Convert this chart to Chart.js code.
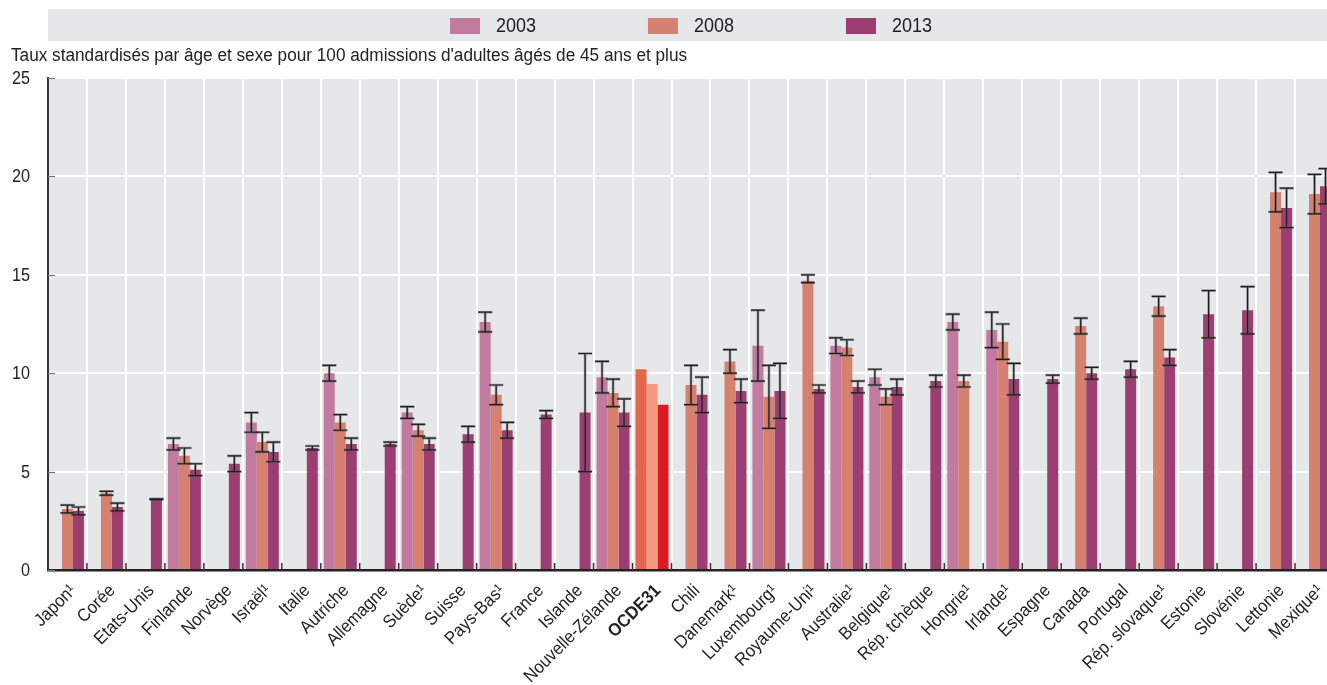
<!DOCTYPE html>
<html lang="fr">
<head>
<meta charset="utf-8">
<title>Taux standardisés par âge et sexe</title>
<script src="https://cdn.jsdelivr.net/npm/chart.js@4.4.1/dist/chart.umd.min.js"></script>
<style>
  html, body { margin: 0; padding: 0; background: #ffffff; overflow: hidden; }
  #wrap { position: absolute; left: 0; top: 0; width: 1336px; height: 685px; }
</style>
</head>
<body>
<div id="wrap"><canvas id="chart" width="1336" height="685"></canvas></div>
<script>
// Countries, sorted by the latest available rate
const categories = [
  'Japon¹', 'Corée', 'Etats-Unis', 'Finlande', 'Norvège', 'Israël¹', 'Italie', 'Autriche',
  'Allemagne', 'Suède¹', 'Suisse', 'Pays-Bas¹', 'France', 'Islande', 'Nouvelle-Zélande', 'OCDE31',
  'Chili', 'Danemark¹', 'Luxembourg¹', 'Royaume-Uni¹', 'Australie¹', 'Belgique¹', 'Rép. tchèque',
  'Hongrie¹', 'Irlande¹', 'Espagne', 'Canada', 'Portugal', 'Rép. slovaque¹', 'Estonie', 'Slovénie',
  'Lettonie', 'Mexique¹'
];
const highlight = 'OCDE31';

const years = ['2003', '2008', '2013'];

// Rates per 100 admissions
const rate2003 = [null, null, null, 6.4, null, 7.5, null, 10.0, null, 8.0, null, 12.6, null, null, 9.8, 10.2,
  null, null, 11.4, null, 11.4, 9.8, null, 12.6, 12.2, null, null, null, null, null, null, null, null];
const rate2008 = [3.1, 3.9, null, 5.8, null, 6.5, null, 7.5, null, 7.1, null, 8.9, null, null, 9.0, 9.45,
  9.4, 10.6, 8.8, 14.7, 11.3, 8.8, null, 9.6, 11.6, null, 12.4, null, 13.4, null, null, 19.2, 19.1];
const rate2013 = [3.0, 3.2, 3.6, 5.1, 5.4, 6.0, 6.2, 6.4, 6.4, 6.4, 6.9, 7.1, 7.9, 8.0, 8.0, 8.4,
  8.9, 9.1, 9.1, 9.2, 9.3, 9.3, 9.6, null, 9.7, 9.7, 10.0, 10.2, 10.8, 13.0, 13.2, 18.4, 19.5];

// 95% confidence intervals (lower / upper)
const low2003 = [null, null, null, 6.1, null, 7.0, null, 9.6, null, 7.7, null, 12.1, null, null, 9.0, null,
  null, null, 9.6, null, 11.0, 9.4, null, 12.2, 11.3, null, null, null, null, null, null, null, null];
const high2003 = [null, null, null, 6.7, null, 8.0, null, 10.4, null, 8.3, null, 13.1, null, null, 10.6, null,
  null, null, 13.2, null, 11.8, 10.2, null, 13.0, 13.1, null, null, null, null, null, null, null, null];
const low2008 = [2.9, 3.8, null, 5.4, null, 6.0, null, 7.1, null, 6.8, null, 8.4, null, null, 8.3, null,
  8.4, 10.0, 7.2, 14.6, 10.9, 8.4, null, 9.3, 10.7, null, 12.0, null, 12.9, null, null, 18.2, 18.1];
const high2008 = [3.3, 4.0, null, 6.2, null, 7.0, null, 7.9, null, 7.4, null, 9.4, null, null, 9.7, null,
  10.4, 11.2, 10.4, 15.0, 11.7, 9.2, null, 9.9, 12.5, null, 12.8, null, 13.9, null, null, 20.2, 20.1];
const low2013 = [2.8, 3.0, 3.58, 4.8, 5.0, 5.5, 6.1, 6.1, 6.3, 6.1, 6.5, 6.7, 7.7, 5.0, 7.3, null,
  8.0, 8.5, 7.7, 9.0, 9.0, 8.9, 9.3, null, 8.9, 9.5, 9.7, 9.8, 10.4, 11.8, 12.0, 17.4, 18.6];
const high2013 = [3.2, 3.4, 3.62, 5.4, 5.8, 6.5, 6.3, 6.7, 6.5, 6.7, 7.3, 7.5, 8.1, 11.0, 8.7, null,
  9.8, 9.7, 10.5, 9.4, 9.6, 9.7, 9.9, null, 10.5, 9.9, 10.3, 10.6, 11.2, 14.2, 14.4, 19.4, 20.4];

const yTicks = [0, 5, 10, 15, 20, 25];
const yTitle = "Taux standardisés par âge et sexe pour 100 admissions d'adultes âgés de 45 ans et plus";

const FONT = "'Liberation Sans', Arial, sans-serif";
const NARROW = 0.9;          // horizontal squeeze for a condensed look
const TEXT = '#222222';
const seriesColor = ['#c27a9f', '#d6816f', '#9c3e71'];
const highlightColor = ['#e5654d', '#f5977a', '#db1b24'];
const plotBg = '#e6e7e8';

const seriesValues = [rate2003, rate2008, rate2013];
const seriesLow = [low2003, low2008, low2013];
const seriesHigh = [high2003, high2008, high2013];

// draw text squeezed horizontally around its anchor
function narrowText(ctx, text, x, y, opts) {
  ctx.save();
  ctx.translate(x, y);
  if (opts.rotate) ctx.rotate(opts.rotate);
  ctx.scale(opts.squeeze || NARROW, 1);
  ctx.font = opts.font;
  ctx.fillStyle = opts.color || TEXT;
  ctx.textAlign = opts.align || 'left';
  ctx.textBaseline = opts.baseline || 'middle';
  ctx.fillText(text, 0, 0);
  ctx.restore();
}

// Grey plot background, legend band, titles and axis labels
const decor = {
  id: 'decor',
  beforeDraw(chart) {
    const { ctx, chartArea: a } = chart;
    ctx.save();
    ctx.fillStyle = plotBg;
    ctx.fillRect(a.left, a.top, a.right - a.left, a.bottom - a.top);
    ctx.restore();
  },
  afterDraw(chart) {
    const { ctx, chartArea: a, scales: { x, y } } = chart;
    ctx.save();
    // legend band
    ctx.fillStyle = plotBg;
    ctx.fillRect(a.left, 9, a.right - a.left, 32);
    const legendFont = '20px ' + FONT;
    ctx.font = legendFont;
    const stride = 198, sw = 30, sh = 16, gap = 16;
    const tw = ctx.measureText(years[0]).width * NARROW;
    const itemW = sw + gap + tw;
    const cx = (a.left + a.right) / 2;
    const x0 = cx - (stride * (years.length - 1) + itemW) / 2;
    chart.data.datasets.forEach((ds, i) => {
      const lx = x0 + i * stride;
      ctx.fillStyle = seriesColor[i];
      ctx.fillRect(lx, 18, sw, sh);
      narrowText(ctx, ds.label, lx + sw + gap, 26, { font: legendFont });
    });
    // value-axis title
    narrowText(ctx, yTitle, 11, 56, { font: '18px ' + FONT, squeeze: 0.955 });
    // value-axis labels
    yTicks.forEach(v => {
      narrowText(ctx, String(v), a.left - 18, y.getPixelForValue(v) + 1,
        { font: '18px ' + FONT, align: 'right' });
    });
    // rotated category labels
    categories.forEach((c, i) => {
      const px = x.getPixelForTick(i);
      const bold = c === highlight ? 'bold ' : '';
      narrowText(ctx, c, px + 6, a.bottom + 18, {
        font: bold + '18px ' + FONT, align: 'right', baseline: 'middle',
        rotate: -Math.PI / 4, squeeze: 0.92
      });
    });
    ctx.restore();
  }
};

// Confidence-interval whiskers and small inner tick marks
const whiskers = {
  id: 'whiskers',
  afterDatasetsDraw(chart) {
    const { ctx, scales: { x, y }, chartArea: a } = chart;
    ctx.save();
    chart.data.datasets.forEach((ds, i) => {
      const meta = chart.getDatasetMeta(i);
      meta.data.forEach((bar, j) => {
        const lo = seriesLow[i][j], hi = seriesHigh[i][j];
        if (lo == null || hi == null) return;
        const px = bar.x;
        const yl = y.getPixelForValue(lo), yh = y.getPixelForValue(hi);
        const half = 7;
        // soft grey under-stroke
        ctx.strokeStyle = 'rgba(90,90,90,0.55)';
        ctx.lineWidth = 2.6;
        ctx.beginPath();
        ctx.moveTo(px, yl); ctx.lineTo(px, yh);
        ctx.moveTo(px - half, yl); ctx.lineTo(px + half, yl);
        ctx.moveTo(px - half, yh); ctx.lineTo(px + half, yh);
        ctx.stroke();
        ctx.strokeStyle = '#1e1e1e';
        ctx.lineWidth = 1.2;
        ctx.beginPath();
        ctx.moveTo(px, yl); ctx.lineTo(px, yh);
        ctx.moveTo(px - half, yl); ctx.lineTo(px + half, yl);
        ctx.moveTo(px - half, yh); ctx.lineTo(px + half, yh);
        ctx.stroke();
      });
    });
    // short ticks inside the plot on the value axis
    ctx.strokeStyle = '#777';
    ctx.lineWidth = 1.2;
    yTicks.forEach(v => {
      const py = Math.round(y.getPixelForValue(v)) + 0.5;
      ctx.beginPath();
      ctx.moveTo(a.left, py); ctx.lineTo(a.left + 7, py);
      ctx.stroke();
    });
    // short upward ticks at category boundaries
    ctx.strokeStyle = '#333';
    ctx.lineWidth = 1.5;
    for (let k = 1; k < categories.length; k++) {
      const bx = (x.getPixelForTick(k - 1) + x.getPixelForTick(k)) / 2;
      ctx.beginPath();
      ctx.moveTo(bx, a.bottom); ctx.lineTo(bx, a.bottom - 7);
      ctx.stroke();
    }
    ctx.restore();
  }
};

const barColors = (i) => (ctx) =>
  categories[ctx.dataIndex] === highlight ? highlightColor[i] : seriesColor[i];

new Chart(document.getElementById('chart'), {
  type: 'bar',
  data: {
    labels: categories,
    datasets: years.map((yr, i) => ({
      label: yr,
      data: seriesValues[i],
      backgroundColor: barColors(i),
      borderWidth: 0,
      barPercentage: 1.0,
      categoryPercentage: 33 / 39
    }))
  },
  options: {
    responsive: false,
    devicePixelRatio: 1,
    animation: false,
    layout: { padding: { top: 78, right: 2, bottom: 0, left: 0 } },
    plugins: {
      legend: { display: false },
      tooltip: { enabled: false },
      title: { display: false }
    },
    scales: {
      x: {
        offset: true,
        afterFit(s) { s.height = 115; },
        grid: { color: '#ffffff', lineWidth: 2, drawTicks: false, offset: true },
        border: { color: '#222', width: 2.5 },
        ticks: { display: false, autoSkip: false }
      },
      y: {
        min: 0,
        max: 25,
        afterFit(s) { s.width = 48; },
        afterBuildTicks(s) { s.ticks = yTicks.map(v => ({ value: v })); },
        grid: { color: '#ffffff', lineWidth: 2, drawTicks: false },
        border: { color: '#333', width: 2 },
        ticks: { display: false }
      }
    }
  },
  plugins: [decor, whiskers]
});
</script>
</body>
</html>
